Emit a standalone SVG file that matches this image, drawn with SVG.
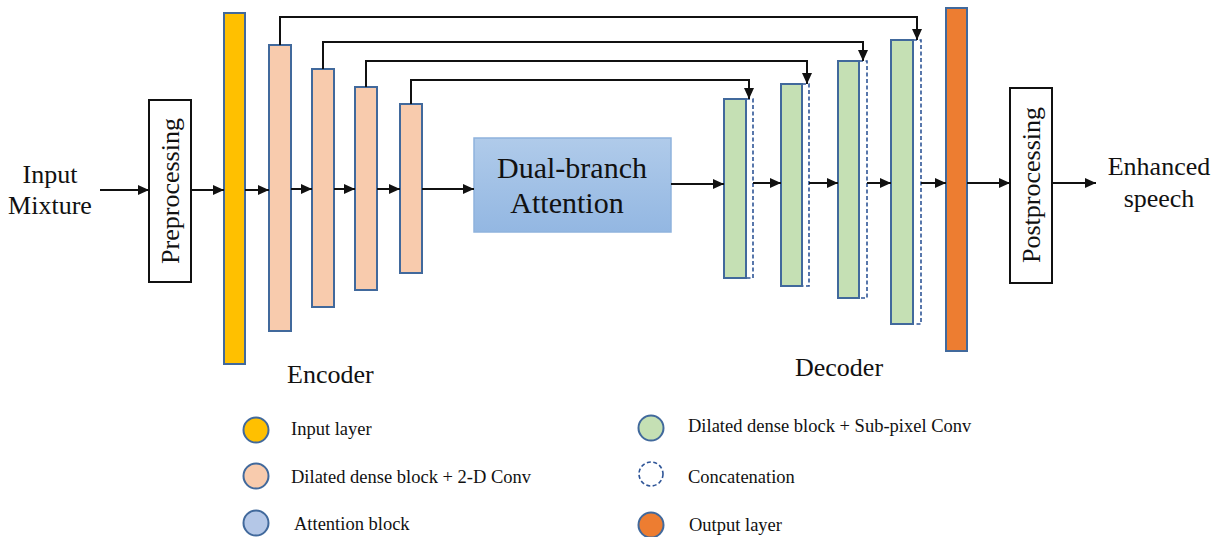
<svg xmlns="http://www.w3.org/2000/svg" width="1225" height="537" viewBox="0 0 1225 537">
  <style>
    .txt { font-family: "Liberation Serif", "Times New Roman", serif; fill: #111; }
    .big { font-size: 26px; }
    .leg { font-size: 18.5px; }
    .box { fill: #fff; stroke: #111; stroke-width: 2; }
    .blk { stroke: #41699c; stroke-width: 2; }
    .inl { fill: #ffc000; }
    .enc { fill: #f8cbad; }
    .dec { fill: #c5e0b4; }
    .outl { fill: #ed7d31; }
    .cat { fill: none; stroke: #2f5597; stroke-width: 1.6; stroke-dasharray: 4 2.5; }
    .link { fill: none; stroke: #111; stroke-width: 2; marker-end: url(#arrow); }
  </style>
  <defs>
    <marker id="arrow" markerUnits="userSpaceOnUse" markerWidth="12" markerHeight="10" refX="11" refY="5" orient="auto">
      <path d="M0,0 L11,5 L0,10 z" fill="#111"/>
    </marker>
    <linearGradient id="attnGrad" x1="0" y1="0" x2="0" y2="1">
      <stop offset="0" stop-color="#b0cbea"/>
      <stop offset="1" stop-color="#93b7e2"/>
    </linearGradient>
  </defs>

  <rect width="1225" height="537" fill="#fff"/>

  <!-- input / output captions -->
  <g id="input-mixture">
    <text class="txt big" x="50" y="183" text-anchor="middle">Input</text>
    <text class="txt big" x="50" y="214" text-anchor="middle">Mixture</text>
  </g>
  <g id="enhanced-speech">
    <text class="txt big" x="1159" y="175" text-anchor="middle">Enhanced</text>
    <text class="txt big" x="1159" y="207" text-anchor="middle">speech</text>
  </g>

  <!-- pre / post processing -->
  <g id="preprocessing">
    <rect class="box" x="149" y="100" width="42" height="182"/>
    <text class="txt big" transform="translate(179,191) rotate(-90)" text-anchor="middle">Preprocessing</text>
  </g>
  <g id="postprocessing">
    <rect class="box" x="1010" y="88" width="42" height="195"/>
    <text class="txt big" transform="translate(1040,185) rotate(-90)" text-anchor="middle">Postprocessing</text>
  </g>

  <!-- input layer -->
  <g id="input-layer"><rect class="blk inl" x="224" y="13" width="21" height="351"/></g>

  <!-- encoder -->
  <g id="enc1"><rect class="blk enc" x="269" y="45" width="22" height="286"/></g>
  <g id="enc2"><rect class="blk enc" x="312" y="69" width="22" height="238"/></g>
  <g id="enc3"><rect class="blk enc" x="355" y="87" width="22" height="203"/></g>
  <g id="enc4"><rect class="blk enc" x="400" y="104" width="22" height="169"/></g>
  <text class="txt big" x="287" y="383">Encoder</text>

  <!-- attention -->
  <g id="attention">
    <rect x="474" y="138" width="197" height="94" fill="url(#attnGrad)" stroke="#8fb3dd" stroke-width="1.5"/>
    <text class="txt" font-size="30" x="572" y="178" text-anchor="middle">Dual-branch</text>
    <text class="txt" font-size="30" x="567" y="213" text-anchor="middle">Attention</text>
  </g>

  <!-- decoder with concatenation strips -->
  <g id="dec1">
    <rect class="cat" x="746" y="99" width="7" height="179"/>
    <rect class="blk dec" x="724" y="99" width="22" height="179"/>
  </g>
  <g id="dec2">
    <rect class="cat" x="802" y="84" width="7" height="202"/>
    <rect class="blk dec" x="781" y="84" width="21" height="202"/>
  </g>
  <g id="dec3">
    <rect class="cat" x="859" y="61" width="8" height="237"/>
    <rect class="blk dec" x="838" y="61" width="21" height="237"/>
  </g>
  <g id="dec4">
    <rect class="cat" x="913" y="40" width="8" height="284"/>
    <rect class="blk dec" x="891" y="40" width="22" height="284"/>
  </g>
  <text class="txt big" x="795" y="376">Decoder</text>

  <!-- output layer -->
  <g id="output-layer"><rect class="blk outl" x="946" y="8" width="21" height="343"/></g>

  <!-- connectors -->
  <g id="connectors">
    <line class="link" x1="100" y1="190" x2="149" y2="190"/>
    <line class="link" x1="191" y1="190" x2="224" y2="190"/>
    <line class="link" x1="245" y1="190" x2="269" y2="190"/>
    <line class="link" x1="291" y1="189" x2="312" y2="189"/>
    <line class="link" x1="334" y1="189" x2="355" y2="189"/>
    <line class="link" x1="377" y1="189" x2="400" y2="189"/>
    <line class="link" x1="422" y1="189" x2="474" y2="189"/>
    <line class="link" x1="671" y1="184" x2="724" y2="184"/>
    <line class="link" x1="753" y1="183" x2="781" y2="183"/>
    <line class="link" x1="809" y1="183" x2="838" y2="183"/>
    <line class="link" x1="867" y1="183" x2="891" y2="183"/>
    <line class="link" x1="921" y1="183" x2="946" y2="183"/>
    <line class="link" x1="967" y1="183" x2="1010" y2="183"/>
    <line class="link" x1="1052" y1="183" x2="1096" y2="183"/>
    <!-- skip connections -->
    <polyline class="link" points="280,45 280,17 917,17 917,40"/>
    <polyline class="link" points="323,69 323,42 863,42 863,61"/>
    <polyline class="link" points="366,87 366,61 807,61 807,84"/>
    <polyline class="link" points="411,104 411,80 749,80 749,99"/>
  </g>

  <!-- legend -->
  <g id="legend">
    <circle cx="256" cy="430" r="12.5" fill="#ffc000" stroke="#41699c" stroke-width="2"/>
    <text class="txt leg" x="291" y="435">Input layer</text>
    <circle cx="256" cy="476" r="12.5" fill="#f8cbad" stroke="#41699c" stroke-width="2"/>
    <text class="txt leg" x="291" y="483">Dilated dense block + 2-D Conv</text>
    <circle cx="256" cy="523" r="12.5" fill="#b4c7e7" stroke="#41699c" stroke-width="2"/>
    <text class="txt leg" x="294" y="530">Attention block</text>

    <circle cx="651" cy="428" r="12.5" fill="#c5e0b4" stroke="#41699c" stroke-width="2"/>
    <text class="txt leg" x="688" y="432">Dilated dense block + Sub-pixel Conv</text>
    <circle cx="651" cy="474" r="12" fill="none" stroke="#2f5597" stroke-width="1.6" stroke-dasharray="4 2.5"/>
    <text class="txt leg" x="688" y="483">Concatenation</text>
    <circle cx="651" cy="525" r="12.5" fill="#ed7d31" stroke="#41699c" stroke-width="2"/>
    <text class="txt leg" x="689" y="531">Output layer</text>
  </g>
</svg>
